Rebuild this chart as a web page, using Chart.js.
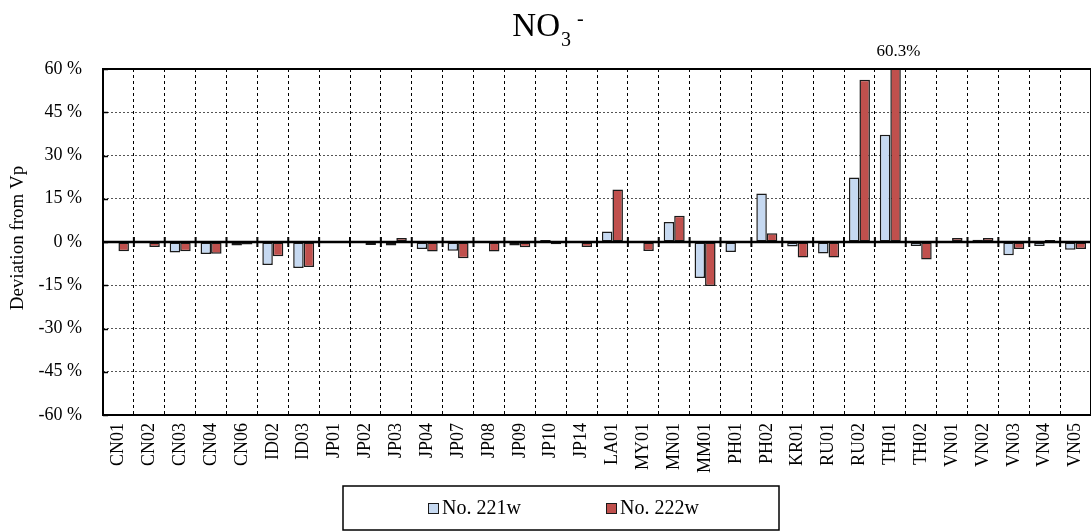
<!DOCTYPE html>
<html>
<head>
<meta charset="utf-8">
<script src="https://cdn.jsdelivr.net/npm/chart.js@4.4.1/dist/chart.umd.min.js"></script>
<style>
  html, body { margin: 0; padding: 0; background: #fff; }
  #wrap { position: relative; width: 1091px; height: 532px; }
</style>
</head>
<body>
<div id="wrap"><canvas id="c" width="1091" height="532"></canvas></div>
<script>
// Sites along the x axis
const categories = ['CN01','CN02','CN03','CN04','CN06','ID02','ID03','JP01','JP02','JP03',
  'JP04','JP07','JP08','JP09','JP10','JP14','LA01','MY01','MN01','MM01','PH01','PH02',
  'KR01','RU01','RU02','TH01','TH02','VN01','VN02','VN03','VN04','VN05'];

// Deviation from the prepared value (%), one value per site
const no221w = [-0.3, 0, -3.6, -4.2, -1.2, -8.0, -9.0, 0.3, 0.3, -1.2,
  -2.4, -3.0, -0.3, -1.2, 0.7, 0.3, 3.6, 0, 6.9, -12.5, -3.5, 16.8,
  -1.6, -4.0, 22.4, 37.2, -1.4, 0, 0.8, -4.6, -1.4, -2.7];
const no222w = [-3.2, -1.7, -3.2, -4.1, -0.9, -4.9, -8.7, 0, -1.0, 1.4,
  -3.3, -5.6, -3.3, -1.8, -0.8, -1.7, 18.2, -3.1, 9.1, -15.3, 0, 3.0,
  -5.4, -5.4, 56.3, 60.3, -6.1, 1.4, 1.4, -2.4, 0.7, -2.4];

const seriesNames = ['No. 221w', 'No. 222w'];
const yTickValues = [-60, -45, -30, -15, 0, 15, 30, 45, 60];
const Y_MIN = -60, Y_MAX = 60;

const SERIF = '"Liberation Serif", "Times New Roman", serif';
const BLUE = '#C6D9F1';
const RED = '#C0504D';

// Plot frame, zero line with cross ticks, inward y ticks
const framePlugin = {
  id: 'frame',
  afterDatasetsDraw(chart) {
    const { ctx, chartArea: a, scales: { x, y } } = chart;
    ctx.save();
    ctx.strokeStyle = '#000';
    // inward y ticks
    ctx.lineWidth = 1.5;
    yTickValues.forEach(v => {
      const py = Math.round(y.getPixelForValue(v)) + 0.5;
      ctx.beginPath(); ctx.moveTo(a.left, py); ctx.lineTo(a.left + 5, py); ctx.stroke();
    });
    // zero line
    const y0 = y.getPixelForValue(0);
    ctx.lineWidth = 2.5;
    ctx.beginPath(); ctx.moveTo(a.left, y0); ctx.lineTo(a.right, y0); ctx.stroke();
    // category boundary ticks crossing the zero line
    ctx.lineWidth = 2;
    for (let i = 1; i < categories.length; i++) {
      const px = (x.getPixelForValue(i - 1) + x.getPixelForValue(i)) / 2;
      ctx.beginPath(); ctx.moveTo(px, y0 - 5); ctx.lineTo(px, y0 + 5); ctx.stroke();
    }
    // frame
    ctx.lineWidth = 2;
    ctx.strokeRect(a.left, a.top, a.right - a.left, a.bottom - a.top);
    ctx.restore();
  }
};

// Labels for bars running past the top of the axis
const overflowLabels = {
  id: 'overflowLabels',
  afterDraw(chart) {
    const { ctx, chartArea: a } = chart;
    ctx.save();
    ctx.fillStyle = '#000';
    ctx.font = '17px ' + SERIF;
    ctx.textAlign = 'center';
    ctx.textBaseline = 'middle';
    chart.data.datasets.forEach((ds, di) => {
      const meta = chart.getDatasetMeta(di);
      ds.data.forEach((v, i) => {
        if (v > Y_MAX) {
          const el = meta.data[i];
          ctx.fillText(v.toFixed(1) + '%', el.x + 3, a.top - 17);
        }
      });
    });
    ctx.restore();
  }
};

// Title with chemical sub/superscript, y axis title, boxed legend
const textPlugin = {
  id: 'texts',
  afterDraw(chart) {
    const { ctx } = chart;
    ctx.save();
    ctx.fillStyle = '#000';
    ctx.textBaseline = 'alphabetic';
    ctx.textAlign = 'left';
    // title NO3-
    ctx.font = '33px ' + SERIF;
    const wNO = ctx.measureText('NO').width;
    ctx.font = '20px ' + SERIF;
    const w3 = ctx.measureText('3').width;
    const wMinus = ctx.measureText('-').width;
    const total = wNO + 1 + w3 + 6 + wMinus;
    const x0 = 548 - total / 2;
    ctx.font = '33px ' + SERIF;
    ctx.fillText('NO', x0, 36);
    ctx.font = '20px ' + SERIF;
    ctx.fillText('3', x0 + wNO + 1, 46);
    ctx.fillText('-', x0 + wNO + 1 + w3 + 6, 25);

    // y axis title
    ctx.save();
    ctx.translate(18, 238);
    ctx.rotate(-Math.PI / 2);
    ctx.font = '19px ' + SERIF;
    ctx.textAlign = 'center';
    ctx.textBaseline = 'middle';
    ctx.fillText('Deviation from Vp', 0, 0);
    ctx.restore();

    // legend box
    const bx = 343, by = 486, bw = 436, bh = 44;
    ctx.lineWidth = 1.5;
    ctx.strokeStyle = '#000';
    ctx.strokeRect(bx, by, bw, bh);
    const colors = [BLUE, RED];
    const itemX = [428, 606];
    ctx.font = '20px ' + SERIF;
    ctx.textBaseline = 'middle';
    seriesNames.forEach((name, i) => {
      ctx.fillStyle = colors[i];
      ctx.fillRect(itemX[i], 503, 10, 10);
      ctx.lineWidth = 1;
      ctx.strokeStyle = '#1a1a1a';
      ctx.strokeRect(itemX[i] + 0.5, 503.5, 10, 10);
      ctx.fillStyle = '#000';
      ctx.fillText(name, itemX[i] + 14, 509);
    });
    ctx.restore();
  }
};

new Chart(document.getElementById('c'), {
  type: 'bar',
  data: {
    labels: categories,
    datasets: [
      { label: seriesNames[0], data: no221w, backgroundColor: BLUE },
      { label: seriesNames[1], data: no222w, backgroundColor: RED }
    ]
  },
  options: {
    responsive: false,
    animation: false,
    devicePixelRatio: 1,
    layout: { padding: { top: 69, left: 0, right: 0, bottom: 0 } },
    datasets: {
      bar: {
        borderColor: '#1a1a1a',
        borderWidth: 1.5,
        borderSkipped: false,
        barPercentage: 1.0,
        categoryPercentage: 0.68
      }
    },
    plugins: {
      legend: { display: false },
      title: { display: false },
      tooltip: { enabled: false }
    },
    scales: {
      x: {
        offset: true,
        grid: { offset: true, color: '#000', lineWidth: 1, drawTicks: false },
        border: { display: false, dash: [3, 3] },
        ticks: {
          autoSkip: false, minRotation: 90, maxRotation: 90, padding: 8,
          color: '#000', font: { family: SERIF, size: 18 }
        },
        afterFit(s) { s.height = 117; s.paddingLeft = 0; s.paddingRight = 0; }
      },
      y: {
        min: Y_MIN, max: Y_MAX,
        grid: { color: '#555', lineWidth: 1, drawTicks: false },
        border: { display: false, dash: [2, 2] },
        ticks: {
          stepSize: 15, padding: 21, color: '#000',
          font: { family: SERIF, size: 18 },
          callback: v => v + ' %'
        },
        afterFit(s) { s.width = 103; }
      }
    }
  },
  plugins: [framePlugin, overflowLabels, textPlugin]
});
</script>
</body>
</html>
